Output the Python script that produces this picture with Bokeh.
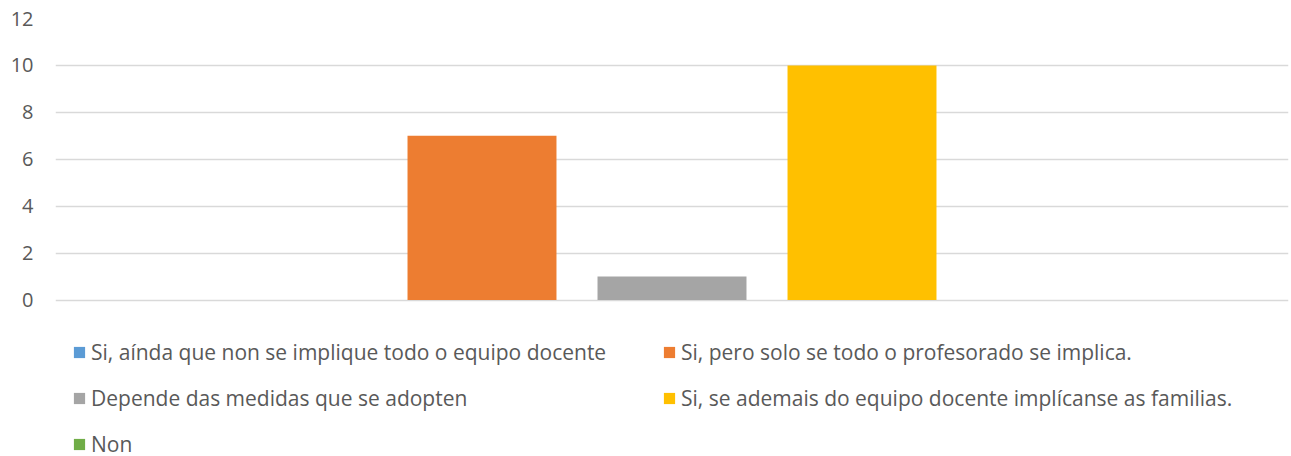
from bokeh.plotting import figure
from bokeh.models import Legend, LegendItem, Range1d, FixedTicker
from bokeh.embed import file_html
from bokeh.resources import INLINE

series = [
    "Si, aínda que non se implique todo o equipo docente",
    "Si, pero solo se todo o profesorado se implica.",
    "Depende das medidas que se adopten",
    "Si, se ademais do equipo docente implícanse as familias.",
    "Non",
]
values = [0, 7, 1, 10, 0]
colors = ["#5B9BD5", "#ED7D31", "#A5A5A5", "#FFC000", "#70AD47"]
y_ticks = [0, 2, 4, 6, 8, 10, 12]

FONT = "Open Sans"
TXT = "#595959"

p = figure(width=1290, height=456, output_backend="svg", toolbar_location=None,
           x_range=Range1d(-1.2447, 5.2447), y_range=Range1d(-6.67, 12),
           min_border_left=55, min_border_right=2, min_border_top=18, min_border_bottom=0)

p.outline_line_color = None
p.xaxis.visible = False
p.xgrid.visible = False
p.ygrid.ticker = FixedTicker(ticks=y_ticks)
p.ygrid.grid_line_color = "#D9D9D9"
p.ygrid.grid_line_width = 1.5
p.yaxis.ticker = FixedTicker(ticks=y_ticks)
p.yaxis.axis_line_color = None
p.yaxis.major_tick_line_color = None
p.yaxis.minor_tick_line_color = None
p.yaxis.major_tick_out = 0
p.yaxis.major_tick_in = 0
p.yaxis.major_label_standoff = 22
p.yaxis.major_label_text_font = FONT
p.yaxis.major_label_text_font_size = "20px"
p.yaxis.major_label_text_color = TXT

renderers = []
for i, (name, v, c) in enumerate(zip(series, values, colors)):
    r = p.vbar(x=[i], top=[v], bottom=0, width=0.784, fill_color=c, line_color=None)
    renderers.append(r)

items = [LegendItem(label=series[i], renderers=[renderers[i]]) for i in range(len(series))]
legend = Legend(items=items, location=(17, -2), orientation="horizontal", ncols=2,
                padding=0, margin=0, spacing=18, glyph_width=14, glyph_height=14,
                label_standoff=5, label_height=20, label_width=553,
                label_text_font=FONT, label_text_font_size="21px", label_text_color=TXT,
                border_line_color=None, background_fill_alpha=0)
p.add_layout(legend, "center")

open("out.html", "w").write(file_html(p, INLINE))
